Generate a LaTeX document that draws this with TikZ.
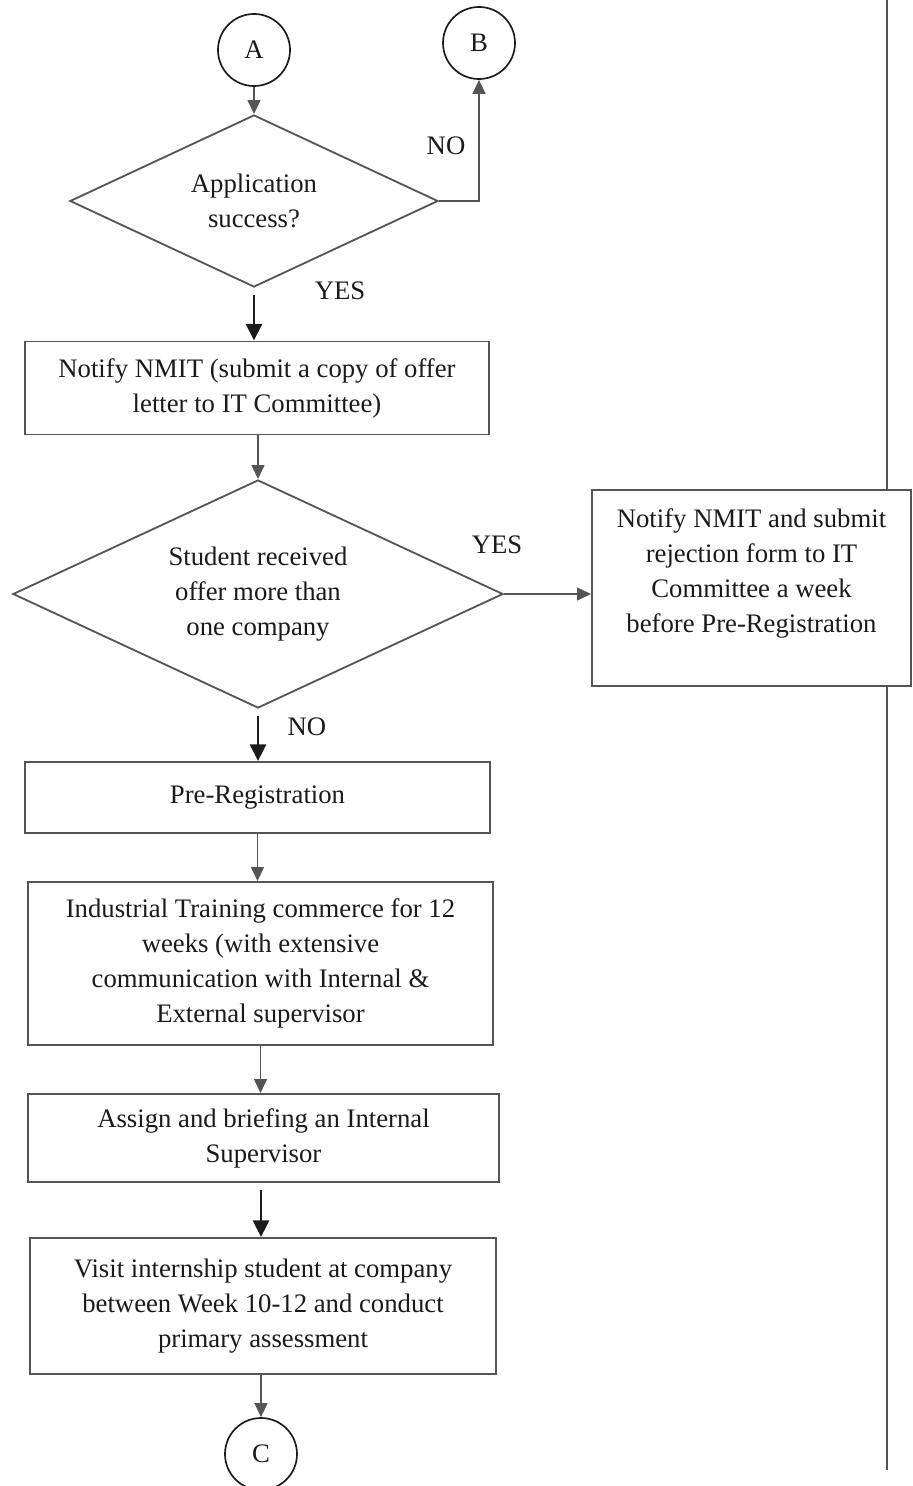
\documentclass[tikz,border=0pt]{standalone}
\usepackage{fontspec}
\setmainfont{Liberation Serif}
\usepackage{tikz}
\usetikzlibrary{shapes.geometric,arrows.meta}
\definecolor{FCLine}{HTML}{555555}
\definecolor{FCDark}{HTML}{1C1C1C}
\definecolor{FCText}{HTML}{1A1A1A}

\begin{document}
\begin{tikzpicture}[x=0.025cm,y=-0.025cm,
  font=\fontsize{19}{24.9}\selectfont, text=FCText,
  process/.style={draw=FCLine,line width=1.3pt,rectangle,align=center,inner sep=2pt},
  decision/.style={draw=FCLine,line width=1.3pt,diamond,align=center,inner sep=1pt},
  connector/.style={draw=FCDark,line width=1.2pt,circle,minimum size=1.8cm,inner sep=0pt},
  flowline/.style={draw=FCLine,line width=1.4pt,-{Triangle[length=0.35cm,width=0.32cm]}},
  boldline/.style={draw=FCDark,line width=2pt,-{Triangle[length=0.42cm,width=0.4cm]}},
  laneline/.style={draw=FCLine,line width=1.1pt}]
\path[use as bounding box] (0,0) rectangle (913,1486);
\node[connector] (A) at (254,50) {A};
\node[connector] (B) at (479,43) {B};
\node[decision,minimum width=9.2cm,minimum height=4.3cm,aspect=2.14] (success) at (254,201) {Application\\success?};
\node[process,minimum width=11.6cm,minimum height=2.325cm] (notify) at (257,388) {Notify NMIT (submit a copy of offer\\letter to IT Committee)};
\node[decision,minimum width=12.25cm,minimum height=5.7cm,aspect=2.15] (offers) at (258,594) {Student received\\offer more than\\one company};
\node[process,minimum width=7.975cm,minimum height=4.9cm] (reject) at (751.5,588) {Notify NMIT and submit\\rejection form to IT\\Committee a week\\before Pre-Registration\\\mbox{}};
\node[process,minimum width=11.625cm,minimum height=1.775cm] (prereg) at (257.5,797.5) {Pre-Registration};
\node[process,minimum width=11.625cm,minimum height=4.075cm] (training) at (260.5,963.5) {Industrial Training commerce for 12\\weeks (with extensive\\communication with Internal \&\\External supervisor};
\node[process,minimum width=11.775cm,minimum height=2.2cm] (assign) at (263.5,1138) {Assign and briefing an Internal\\Supervisor};
\node[process,minimum width=11.65cm,minimum height=3.4cm] (visit) at (263,1306) {Visit internship student at company\\between Week 10-12 and conduct\\primary assessment};
\node[connector] (C) at (261,1454) {C};
% branch labels
\node (nosuccess) at (446,146) {NO};
\node (yessuccess) at (340,291) {YES};
\node (yesoffers) at (497,545) {YES};
\node (nooffers) at (307,727) {NO};
% lane divider
\coordinate (lanetop) at (887,0);
\coordinate (lanebot) at (887,1470);
\draw[laneline] (lanetop) -- (lanetop |- reject.north);
\draw[laneline] (lanetop |- reject.south) -- (lanebot);
% connectors
\draw[flowline] (A) -- (success);
\draw[flowline] (success.east) -| (B);
\draw[boldline,shorten <=5pt] (success.south) -- (success.south |- notify.north);
\draw[flowline] (notify.south -| offers.north) -- (offers.north);
\draw[flowline] (offers.east) -- (offers.east -| reject.west);
\draw[boldline,shorten <=5pt] (offers.south) -- (prereg.north -| offers.south);
\draw[flowline] (prereg.south) -- (prereg.south |- training.north);
\draw[flowline] (training.south) -- (training.south |- assign.north);
\draw[boldline,shorten <=5pt] (assign.south -| C) -- (visit.north -| C);
\draw[flowline] (visit.south -| C) -- (C);
\end{tikzpicture}
\end{document}
